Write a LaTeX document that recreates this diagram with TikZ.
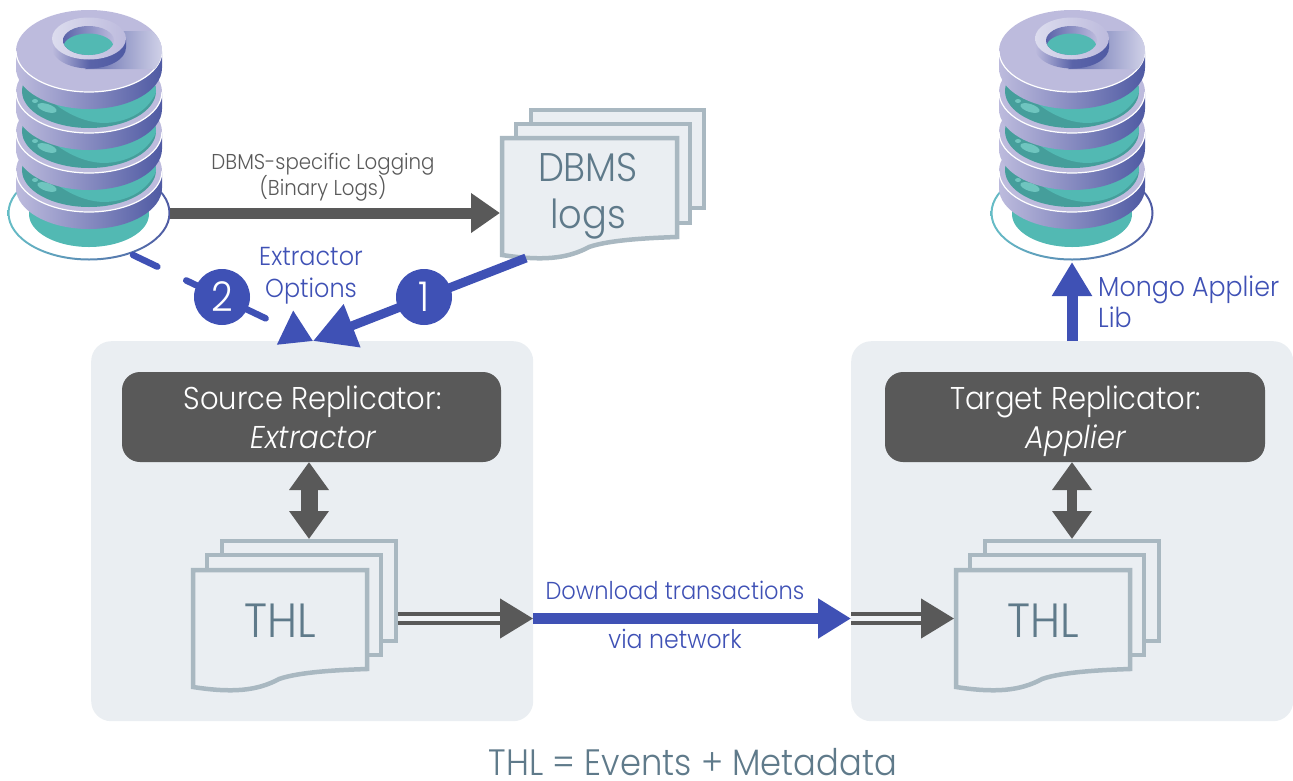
\documentclass[tikz,border=0pt]{standalone}
\usepackage{fontspec}
\setmainfont{Poppins}[UprightFont=* Light,ItalicFont=* Light Italic,BoldFont=* Medium,FakeStretch=0.92]
\usetikzlibrary{arrows.meta}
\definecolor{panelc}{HTML}{EAEEF2}
\definecolor{darkc}{HTML}{595959}
\definecolor{bluec}{HTML}{3F51B5}
\definecolor{slatec}{HTML}{5F7A8A}
\definecolor{pagec}{HTML}{A9B8C1}
\definecolor{lav}{HTML}{BDBBDD}
\definecolor{lavl}{HTML}{DCDCEE}
\definecolor{indg}{HTML}{4F5AA3}
\definecolor{teal1}{HTML}{52B9B3}
\definecolor{teal2}{HTML}{459E9B}
\definecolor{teal3}{HTML}{6FC5BF}
\definecolor{ringl}{HTML}{66BDC6}
\definecolor{ringm}{HTML}{62A4BE}
\newcommand{\fsz}[1]{\fontsize{#1}{#1}\selectfont}
\tikzset{
  panel/.style={fill=panelc,rounded corners=20pt,anchor=north west,inner sep=0pt,minimum width=#1,minimum height=380pt},
  darkbox/.style={fill=darkc,rounded corners=18pt,inner sep=0pt,minimum width=380pt,minimum height=90pt},
  boxtext/.style={text=white,inner sep=0pt,anchor=base,font=\fsz{31.5}},
  pagesheet/.style={fill=panelc,draw=pagec,line width=4.5pt,miter limit=10},
  doclabel/.style={text=slatec,inner sep=0pt,anchor=base,font=\fsz{40}},
  thllabel/.style={text=slatec,inner sep=0pt,anchor=base,font=\fsz{48}},
  bluelabel/.style={text=bluec,inner sep=0pt,anchor=base,font=\fsz{#1}},
  badge/.style={circle,fill=bluec,text=white,minimum size=56pt,inner sep=0pt,font=\fsz{41}},
  thickblue/.style={draw=bluec,line width=11pt,-{Triangle[length=33pt,width=38pt]}},
  thickdark/.style={draw=darkc,line width=11pt,-{Triangle[length=29pt,width=38pt]}},
  twin/.style={draw=darkc,line width=4.5pt,double=panelc!70!white,double distance=4.5pt,-{Triangle[length=33pt,width=39pt]}},
}
\newcommand{\dbDisc}[1]{%
  \path[left color=lav,right color=indg] (16,-#1) -- (16,-#1-17) arc[start angle=180,end angle=360,x radius=73,y radius=41] -- (162,-#1) arc[start angle=360,end angle=180,x radius=73,y radius=41] -- cycle;
  \fill[lav] (89,-#1) ellipse[x radius=73,y radius=41];
  \draw[white,line width=1.2pt] (16,-#1) arc[start angle=180,end angle=360,x radius=73,y radius=41];
}
\newcommand{\dbTeal}[1]{% #1 = bottom y of the teal band
  \begin{scope}
    \clip (89,-#1+37) ellipse[x radius=67,y radius=37];
    \fill[teal2] (20,-#1-2) rectangle (158,-#1+80);
    \fill[teal1] (50,-#1+28) .. controls (65,-#1+15) and (85,-#1+5) .. (105,-#1+5) .. controls (130,-#1+6) and (150,-#1+18) .. (158,-#1+40) -- (158,-#1+80) -- (50,-#1+80) -- cycle;
    \fill[teal3,rotate around={-18:(47,-#1+20)}] (47,-#1+20) ellipse[x radius=10,y radius=4];
    \fill[teal3] (35,-#1+27) ellipse[x radius=3,y radius=2];
  \end{scope}
}
\newcommand{\dbIcon}[1]{%
\begin{scope}[shift={(#1,0)}]
  \path[even odd rule,left color=ringl,middle color=ringm,right color=indg] (89,-213) ellipse[x radius=81.5,y radius=47.5] (89,-213) ellipse[x radius=79.5,y radius=45.5];
  \fill[teal1] (89,-214) ellipse[x radius=60,y radius=33];
  \dbDisc{171}\dbTeal{207}
  \dbDisc{132}\dbTeal{168}
  \dbDisc{92}\dbTeal{128}
  \dbDisc{51}
  \begin{scope}
    \clip (89,-51) ellipse[x radius=73,y radius=41];
    \path[left color=indg!85!lav,middle color=indg!72!lav,right color=lavl] (85,-31) (123,-31) -- (152,-31) -- (170,-50) -- (170,-69) -- (85,-69) -- cycle;
  \end{scope}
  \path[left color=lav,right color=indg,middle color=indg!90!lav] (52,-38.5) -- (52,-47.5) arc[start angle=180,end angle=360,x radius=37,y radius=21] -- (126,-38.5) -- cycle;
  \path[left color=lavl,right color=lav] (89,-38.5) ellipse[x radius=37,y radius=21];
  \path[left color=indg!90!lav,right color=lav] (88.5,-40.5) ellipse[x radius=25.5,y radius=14.5];
  \begin{scope}
    \clip (88.5,-40.5) ellipse[x radius=25.5,y radius=14.5];
    \fill[teal1] (88.5,-47) ellipse[x radius=25,y radius=13.5];
  \end{scope}
\end{scope}}
\newcommand{\docSheet}[5]{% left, top, right, bottom-right y, bottom-left y
  \draw[pagesheet] (#1,-#2) -- (#3,-#2) -- (#3,-#4) .. controls (#3-30,-#4-1) and (#3-68,-#4-3) .. (#3-88,-#4-10) .. controls (#3-110,-#4-22) and (#3-135,-#5-6) .. (#1,-#5) -- cycle;
}
\begin{document}
\begin{tikzpicture}[x=1pt,y=1pt]
\useasboundingbox (0,0) rectangle (1293,-780);

\node[panel=442pt] (srcPanel) at (91,-341) {};
\node[panel=442pt] (tgtPanel) at (851,-341) {};

% database icons
\dbIcon{0}
\dbIcon{983}
\coordinate (srcDbE) at (170,-213);
\coordinate (srcDbS) at (133,-255);
\coordinate (tgtDbS) at (1072,-262);

% DBMS logs
\draw[pagesheet] (531,-110) rectangle (704,-208);
\draw[pagesheet] (516,-124) rectangle (690,-223);
\docSheet{502}{138}{677}{237}{255}
\node[doclabel] (dbmsText) at (588,-181) {DBMS};
\node[doclabel] (logsText) at (588,-228) {logs};
\coordinate (dbmsW) at (500,-213);
\coordinate (dbmsS) at (526,-258);

% source replicator
\node[darkbox,minimum width=379pt] (srcBox) at (311.5,-417) {};
\node[boxtext] (srcT1) at (312.5,-409) {Source Replicator:};
\node[boxtext] (srcT2) at (314,-448) {\textit{Extractor}};
\draw[pagesheet] (222,-541) rectangle (396,-641);
\draw[pagesheet] (207,-555) rectangle (381,-655);
\docSheet{193}{570}{367}{669}{687}
\node[thllabel] (thlA) at (280,-637) {THL};
\coordinate (thlAE) at (398,-618.5);
\coordinate (thlAN) at (309,-539);

% target replicator
\node[darkbox] (tgtBox) at (1075,-417) {};
\node[boxtext] (tgtT1) at (1075.5,-409) {Target Replicator:};
\node[boxtext] (tgtT2) at (1076,-448) {\textit{Applier}};
\draw[pagesheet] (985,-541) rectangle (1159,-641);
\draw[pagesheet] (970,-555) rectangle (1144,-655);
\docSheet{956}{570}{1130}{669}{687}
\node[thllabel] (thlB) at (1043,-637) {THL};
\coordinate (thlBW) at (954,-618.5);
\coordinate (thlBN) at (1072,-539);

% connectors
\draw[thickdark] (srcDbE) -- (dbmsW);
\node[text=darkc,inner sep=0pt,anchor=base,font=\fsz{21.5}] (logLabel) at (323,-169) {DBMS-specific Logging};
\node[text=darkc,inner sep=0pt,anchor=base,font=\fsz{21.5}] (logLabel2) at (323,-195) {(Binary Logs)};

\coordinate (srcIn) at (313,-341);
\draw[draw=bluec,line width=9pt,-{Triangle[length=42pt,width=44pt]}] (dbmsS) -- (srcIn);
\draw[draw=bluec,line width=6.5pt,line cap=round,dash pattern=on 27pt off 32pt on 88pt off 80pt,-{Triangle[length=31pt,width=36pt]}] (srcDbS) -- (srcIn);
\node[badge] (badgeOne) at (424,-297) {1};
\node[badge] (badgeTwo) at (222,-297) {2};
\node[bluelabel=26] (extrLabel) at (311,-265) {Extractor};
\node[bluelabel=26] (optLabel) at (311,-297) {Options};

\draw[draw=darkc,line width=17pt,{Triangle[length=28pt,width=38pt]}-{Triangle[length=28pt,width=38pt]}] (309,-462) -- (thlAN);
\draw[draw=darkc,line width=10pt,{Triangle[length=28pt,width=38pt]}-{Triangle[length=28pt,width=38pt]}] (1072,-462) -- (thlBN);

\coordinate (srcE) at (533,-618.5);
\coordinate (tgtW) at (851,-618.5);
\draw[twin] (thlAE) -- (srcE);
\draw[thickblue] (srcE) -- (tgtW);
\draw[twin] (tgtW) -- (thlBW);
\node[bluelabel=24.5] (dlLabel) at (675,-599) {Download transactions};
\node[bluelabel=25.7] (netLabel) at (675,-648) {via network};

\draw[thickblue,-{Triangle[length=34pt,width=38pt]}] (tgtPanel.north -| tgtDbS) -- (tgtDbS);
\node[bluelabel=27.5,anchor=base west] (mongoLabel) at (1098,-296) {Mongo Applier};
\node[bluelabel=27.5,anchor=base west] (libLabel) at (1098,-327) {Lib};

\node[text=slatec,inner sep=0pt,anchor=base,font=\fsz{36.7}] (footer) at (693,-775) {THL = Events + Metadata};
\end{tikzpicture}
\end{document}
